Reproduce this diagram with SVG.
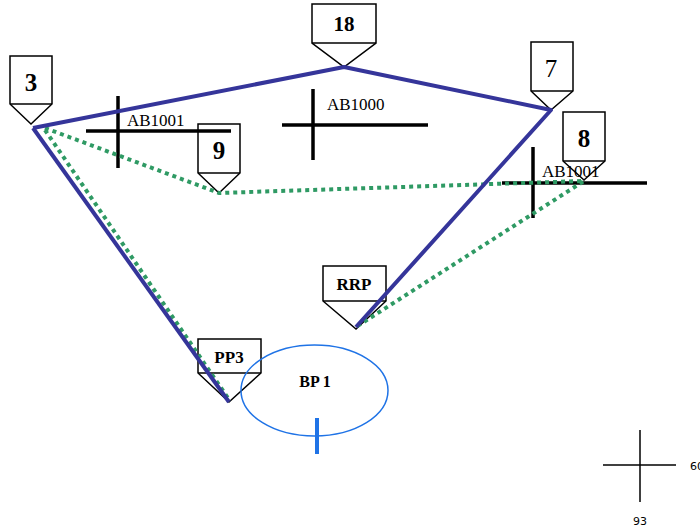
<svg xmlns="http://www.w3.org/2000/svg" width="700" height="531" viewBox="0 0 700 531">
<style>
.box{fill:#fff;stroke:#000;stroke-width:1.5}
.num{font-family:"Liberation Serif",serif;font-weight:bold;text-anchor:middle;fill:#000}
.lbl{font-family:"Liberation Serif",serif;font-size:17px;fill:#000}
.cross{stroke:#000;stroke-width:3.5}
.blue{fill:none;stroke:#35359a;stroke-width:4;stroke-linejoin:round}
.green{fill:none;stroke:#2f9a64;stroke-width:4;stroke-dasharray:4 4}
</style>
<rect width="700" height="531" fill="#fff"/>
<g id="node-3"><path class="box" d="M10,56 H52 V104 L31,124 L10,104 Z"/><line class="box" x1="10" y1="104" x2="52" y2="104"/><text class="num" x="31" y="91" font-size="25">3</text></g>
<g id="node-18"><path class="box" d="M312,4 H376 V43 L344,67 L312,43 Z"/><line class="box" x1="312" y1="43" x2="376" y2="43"/><text class="num" x="344" y="31" font-size="21">18</text></g>
<g id="node-7"><path class="box" d="M531,42 H573 V91 L551,110 L531,91 Z"/><line class="box" x1="531" y1="91" x2="573" y2="91"/><text class="num" x="551" y="77" font-size="25" style="font-weight:normal">7</text></g>
<g id="node-9"><path class="box" d="M198,124 H240 V173 L219,193 L198,173 Z"/><line class="box" x1="198" y1="173" x2="240" y2="173"/><text class="num" x="219" y="159" font-size="25">9</text></g>
<g id="node-8"><path class="box" d="M563,112 H605 V161 L584,180 L563,161 Z"/><line class="box" x1="563" y1="161" x2="605" y2="161"/><text class="num" x="584" y="147" font-size="25">8</text></g>
<g id="node-RRP"><path class="box" d="M323,266 H386 V301 L356,329 L323,301 Z"/><line class="box" x1="323" y1="301" x2="386" y2="301"/><text class="num" x="354" y="290" font-size="17">RRP</text></g>
<g id="node-PP3"><path class="box" d="M198,339 H261 V373 L229,402 L198,373 Z"/><line class="box" x1="198" y1="373" x2="261" y2="373"/><text class="num" x="229" y="363" font-size="17">PP3</text></g>
<g id="node-BP1"><ellipse cx="314.5" cy="390.5" rx="73.5" ry="45.5" fill="none" stroke="#1f73e6" stroke-width="1.5"/><line x1="317" y1="418" x2="317" y2="454" stroke="#1f73e6" stroke-width="4"/><text class="num" x="315" y="387" font-size="16">BP 1</text></g>
<g id="cross-AB1001a"><line class="cross" x1="86" y1="131" x2="231" y2="131"/><line class="cross" x1="118" y1="96" x2="118" y2="168"/><text class="lbl" x="127" y="126">AB1001</text></g>
<g id="cross-AB1000"><line class="cross" x1="282" y1="125" x2="428" y2="125"/><line class="cross" x1="313" y1="89" x2="313" y2="160"/><text class="lbl" x="327" y="110">AB1000</text></g>
<g id="cross-AB1001b"><line class="cross" x1="502" y1="183" x2="647" y2="183"/><line class="cross" x1="533" y1="147" x2="533" y2="218"/><text class="lbl" x="542" y="177">AB1001</text></g>
<g id="connectors">
<polyline class="green" points="45,128 219,193 584,181 356,327"/>
<line class="green" x1="45" y1="130" x2="230" y2="401"/>
<polyline class="blue" points="33,128 344,67 551,110 356,327"/>
<line class="blue" x1="33" y1="128" x2="229" y2="402"/>
</g>
<g id="axis"><line x1="603" y1="465" x2="676" y2="465" stroke="#000" stroke-width="1.5"/><line x1="640" y1="430" x2="640" y2="502" stroke="#000" stroke-width="1.5"/><text x="690" y="470" font-family="DejaVu Sans,sans-serif" font-size="11" fill="#000">60</text><text x="640" y="525" font-family="DejaVu Sans,sans-serif" font-size="11" fill="#000" text-anchor="middle">93</text></g>
</svg>
